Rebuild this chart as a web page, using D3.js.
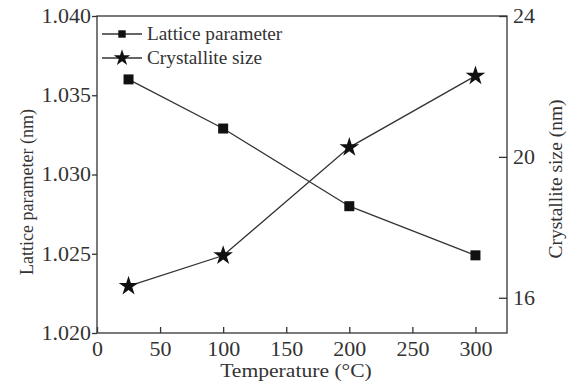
<!DOCTYPE html>
<html>
<head>
<meta charset="utf-8">
<script src="https://cdn.jsdelivr.net/npm/d3@7"></script>
<style>
  body { margin: 0; background: #fff; }
  text { font-family: "Liberation Serif", "Times New Roman", serif; fill: #333; }
</style>
</head>
<body>
<svg width="571" height="387"></svg>
<script>
const temps = [25, 100, 200, 300]
const lattice = [1.036, 1.0329, 1.028, 1.0249]
const crystal = [16.33, 17.2, 20.27, 22.3]
const xTicks = [0, 50, 100, 150, 200, 250, 300]
const yTicks = [1.020, 1.025, 1.030, 1.035, 1.040]
const y2Ticks = [16, 20, 24]

var svg = d3.select("svg"),
    margin = {top: 16, right: 64, bottom: 54, left: 97}
let width = +svg.attr("width") - margin.left - margin.right
let height = +svg.attr("height") - margin.top - margin.bottom

let x = d3.scaleLinear().domain([0, 325]).range([0, width])
let y = d3.scaleLinear().domain([1.020, 1.040]).range([height, 0])
let y2 = d3.scaleLinear().domain([15, 24]).range([height, 0])

// the original's lettering is a little wider than Times
function widen(sel, k) {
  sel.each(function() {
    let len = this.getComputedTextLength()
    d3.select(this).attr("textLength", len * k).attr("lengthAdjust", "spacingAndGlyphs")
  })
}

let g = svg.append("g")
  .attr("transform", "translate(" + margin.left + "," + margin.top + ")")

// frame
g.append("rect")
  .attr("width", width).attr("height", height)
  .attr("fill", "none").attr("stroke", "#333").attr("stroke-width", 1.3)

function styleAxis(sel) {
  sel.select(".domain").remove()
  sel.selectAll(".tick line").attr("stroke", "#333").attr("stroke-width", 1.3)
  sel.selectAll(".tick text").attr("font-size", 20).attr("fill", "#333")
    .attr("font-family", "Liberation Serif")
}

g.append("g")
  .attr("transform", "translate(0," + height + ")")
  .call(d3.axisBottom(x).tickValues(xTicks).tickSize(-6).tickPadding(9).tickFormat(d3.format("d")))
  .call(styleAxis)
  .selectAll(".tick text").call(widen, 1.1)

g.append("g")
  .call(d3.axisLeft(y).tickValues(yTicks).tickSize(5).tickPadding(1).tickFormat(d3.format(".3f")))
  .call(styleAxis)
  .selectAll(".tick text").call(widen, 1.1)

g.append("g")
  .attr("transform", "translate(" + width + ",0)")
  .call(d3.axisRight(y2).tickValues(y2Ticks).tickSize(-8).tickPadding(6))
  .call(styleAxis)
  .selectAll(".tick text").call(widen, 1.1)

// axis titles
svg.append("text")
  .attr("x", 296).attr("y", 377)
  .attr("text-anchor", "middle").attr("font-size", 18)
  .text("Temperature (\u00B0C)")
  .call(widen, 1.2)

svg.append("text")
  .attr("transform", "translate(33,192) rotate(-90)")
  .attr("text-anchor", "middle").attr("font-size", 18)
  .text("Lattice parameter (nm)")

svg.append("text")
  .attr("transform", "translate(562,179) rotate(-90)")
  .attr("text-anchor", "middle").attr("font-size", 19.5)
  .text("Crystallite size (nm)")

// series
let pts1 = temps.map((t, i) => [x(t), y(lattice[i])])
let pts2 = temps.map((t, i) => [x(t), y2(crystal[i])])

g.append("path").attr("d", d3.line()(pts1))
  .attr("fill", "none").attr("stroke", "#333").attr("stroke-width", 1.3)
g.append("path").attr("d", d3.line()(pts2))
  .attr("fill", "none").attr("stroke", "#333").attr("stroke-width", 1.3)

let sq = d3.symbol().type(d3.symbolSquare).size(100)
let st = d3.symbol().type(d3.symbolStar).size(120)

g.selectAll(".sq").data(pts1).enter().append("path")
  .attr("class", "sq")
  .attr("transform", d => "translate(" + d + ")")
  .attr("d", sq).attr("fill", "#111")

g.selectAll(".st").data(pts2).enter().append("path")
  .attr("class", "st")
  .attr("transform", d => "translate(" + d + ")")
  .attr("d", st).attr("fill", "#111")

// legend
let legend = [
  {name: "Lattice parameter", type: d3.symbolSquare, size: 55, y: 18},
  {name: "Crystallite size", type: d3.symbolStar, size: 85, y: 42}
]
let lg = g.selectAll(".lg").data(legend).enter().append("g")
  .attr("transform", d => "translate(5," + d.y + ")")
lg.append("line").attr("x1", 0).attr("x2", 40)
  .attr("stroke", "#333").attr("stroke-width", 1.3)
lg.append("path").attr("transform", "translate(20,0)")
  .attr("d", d => d3.symbol().type(d.type).size(d.size)())
  .attr("fill", "#111")
lg.append("text").attr("x", 45).attr("dy", "0.33em")
  .attr("font-size", 18).text(d => d.name)
  .call(widen, 1.07)
</script>
</body>
</html>
